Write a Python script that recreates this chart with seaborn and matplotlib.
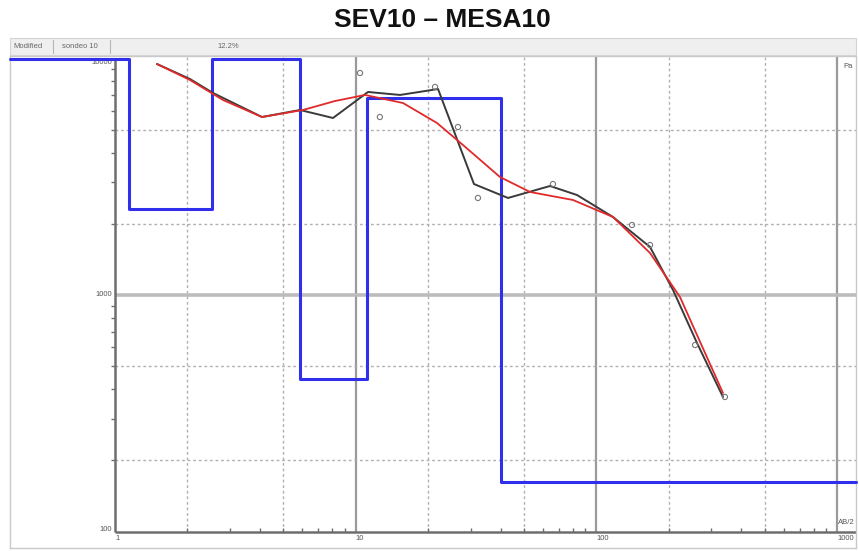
import numpy as np
import pandas as pd
import matplotlib
matplotlib.use("Agg")
import matplotlib.pyplot as plt
from matplotlib.patches import Rectangle
from matplotlib.lines import Line2D
import seaborn as sns

# Field curve (AB/2 in m, apparent resistivity in ohm·m)
obs_ab2 = [1.494, 2.049, 2.554, 4.080, 5.870, 8.048, 11.25, 15.28, 21.98, 31.0,
           42.93, 64.15, 83.08, 117.2, 167.0, 208.1, 261.8, 335.7]
obs_rho = [9478, 8190, 7149, 5657, 6058, 5603, 7219, 7012, 7430, 2946,
           2572, 2890, 2647, 2137, 1596, 1050, 626.7, 370.5]

# Individual measured points
pts_ab2 = [10.42, 12.6, 21.36, 26.6, 32.2, 66.0, 140.6, 167.0, 257.0, 342.0]
pts_rho = [8683, 5657, 7578, 5133, 2572, 2946, 1977, 1627, 614.5, 370.5]

# Calculated (model) curve
calc_ab2 = [1.494, 2.049, 2.811, 4.080, 6.040, 8.203, 10.93, 15.72, 21.77, 27.91,
            39.77, 53.0, 79.95, 117.2, 167.0, 222.5, 335.7]
calc_rho = [9478, 8112, 6674, 5657, 6058, 6610, 7012, 6483, 5337, 4307,
            3154, 2726, 2522, 2137, 1505, 980.6, 385.1]

# Layered model: layer bottoms (m) and layer resistivities (ohm·m)
layer_depths = [1.14, 2.53, 5.87, 11.14, 40.1]
layer_rho = [10000, 2310, 10000, 441, 6807, 162]

header_items = ["Modified", "sondeo 10", "12.2%"]
title = "SEV10 \u2013 MESA10"

W, H = 859, 551
sns.set_theme(style="white")
plt.rcParams["font.family"] = ["Liberation Sans", "DejaVu Sans"]

fig = plt.figure(figsize=(W / 100, H / 100), dpi=100)
fig.patch.set_facecolor("white")

# plotting frame in pixel coordinates
fx0, fx1, fy_top, fy_bot = 10, 856, 56, 548
ax = fig.add_axes([fx0 / W, (H - fy_bot) / H, (fx1 - fx0) / W, (fy_bot - fy_top) / H])
ax.set_xscale("log")
ax.set_yscale("log")

# pixel mapping: x=1 at 115 px, one decade = 240.7 px; y=1000 at 295 px, decade = 236.5 px
xmin = 10 ** ((fx0 - 115) / 240.7)
xmax = 10 ** ((fx1 - 115) / 240.7)
ymin = 1000 * 10 ** ((295 - fy_bot) / 236.5)
ymax = 1000 * 10 ** ((295 - fy_top) / 236.5)
ax.set_xlim(xmin, xmax)
ax.set_ylim(ymin, ymax)
ax.set_xticks([])
ax.set_yticks([])
ax.xaxis.set_minor_locator(matplotlib.ticker.NullLocator())
ax.yaxis.set_minor_locator(matplotlib.ticker.NullLocator())
for s in ax.spines.values():
    s.set_color("#c9c9c9")
    s.set_linewidth(1.0)

# grid
for xv in [10, 100, 1000]:
    ax.vlines(xv, 100, ymax, color="#9a9a9a", lw=1.6, zorder=1)
for xv in [2, 5, 20, 50, 200, 500]:
    ax.vlines(xv, 100, ymax, color="#b0b0b0", lw=1.0, linestyles=(0, (2, 2)), zorder=1)
ax.hlines(1000, 1, xmax, color="#bcbcbc", lw=2.6, zorder=1)
for yv in [200, 500, 2000, 5000]:
    ax.hlines(yv, 1, xmax, color="#b0b0b0", lw=1.0, linestyles=(0, (2, 2)), zorder=1)

# axis lines with small tick marks
ax.vlines(1, 100, 10000, color="#6e6e6e", lw=1.8, zorder=2)
ax.hlines(100, 1, xmax, color="#6e6e6e", lw=1.8, zorder=2)
yminor = [k * 10 ** n for n in (2, 3) for k in range(2, 10)]
ax.plot([1] * len(yminor), yminor, ls="none", marker=0, ms=3, mew=1.0, color="#6e6e6e", zorder=2)
xminor = [k * 10 ** n for n in (0, 1, 2) for k in range(2, 10)]
ax.plot(xminor, [100] * len(xminor), ls="none", marker=2, ms=3, mew=1.0, color="#6e6e6e", zorder=2)

lab_kw = dict(fontsize=5.5, color="#555555", textcoords="offset pixels", annotation_clip=False)
ax.annotate("10000", (1, 10000), xytext=(-3, -4), ha="right", va="center", **lab_kw)
ax.annotate("1000", (1, 1000), xytext=(-3, 0), ha="right", va="center", **lab_kw)
ax.annotate("100", (1, 100), xytext=(-3, 2), ha="right", va="center", **lab_kw)
for xv, s in zip([1, 10, 100, 1000], ["1", "10", "100", "1000"]):
    ax.annotate(s, (xv, 100), xytext=(0, -7), ha="left", va="center", **lab_kw)
ax.text((855 - fx0) / (fx1 - fx0), (fy_bot - 523) / (fy_bot - fy_top), "AB/2",
        transform=ax.transAxes, ha="right", va="center", fontsize=5.5, color="#555555")
ax.text((853 - fx0) / (fx1 - fx0), (fy_bot - 66) / (fy_bot - fy_top), "Pa",
        transform=ax.transAxes, ha="right", va="center", fontsize=5.5, color="#555555")

# layered model as a step line
step_x = [xmin] + layer_depths + [xmax]
step_y = layer_rho + [layer_rho[-1]]
model_df = pd.DataFrame({"ab2": step_x, "rho": step_y})
sns.lineplot(data=model_df, x="ab2", y="rho", ax=ax, sort=False, drawstyle="steps-post",
             color="#3030ec", lw=2.2, zorder=3, clip_on=False)

obs_df = pd.DataFrame({"ab2": obs_ab2, "rho": obs_rho})
sns.lineplot(data=obs_df, x="ab2", y="rho", ax=ax, sort=False, color="#3a3a3a", lw=1.4, zorder=4)

calc_df = pd.DataFrame({"ab2": calc_ab2, "rho": calc_rho})
sns.lineplot(data=calc_df, x="ab2", y="rho", ax=ax, sort=False, color="#e02a2a", lw=1.3, zorder=5)

pts_df = pd.DataFrame({"ab2": pts_ab2, "rho": pts_rho})
sns.scatterplot(data=pts_df, x="ab2", y="rho", ax=ax, s=14, facecolor="none",
                edgecolor="#777777", linewidth=0.8, zorder=6)

ax.set_xlabel("")
ax.set_ylabel("")
ax.set_xlim(xmin, xmax)
ax.set_ylim(ymin, ymax)

# status bar above the frame
bar_top, bar_bot = 38, 55
fig.patches.append(Rectangle((fx0 / W, (H - bar_bot) / H), (fx1 - fx0) / W, (bar_bot - bar_top) / H,
                             transform=fig.transFigure, facecolor="#efefef", edgecolor="#d4d4d4",
                             lw=0.8, zorder=0))
ymid = 1 - 47 / H
for xpix, s in zip([13, 62, 217], header_items):
    fig.text(xpix / W, ymid, s, fontsize=5.5, color="#666666", ha="left", va="center")
for xpix in [53, 110]:
    fig.add_artist(Line2D([xpix / W, xpix / W], [1 - 53 / H, 1 - 40 / H],
                          transform=fig.transFigure, color="#b5b5b5", lw=0.8))

fig.text(442 / W, 1 - 20 / H, title, fontsize=19, fontweight="bold", color="#111111",
         ha="center", va="center")

fig.savefig("out.png", dpi=100)
